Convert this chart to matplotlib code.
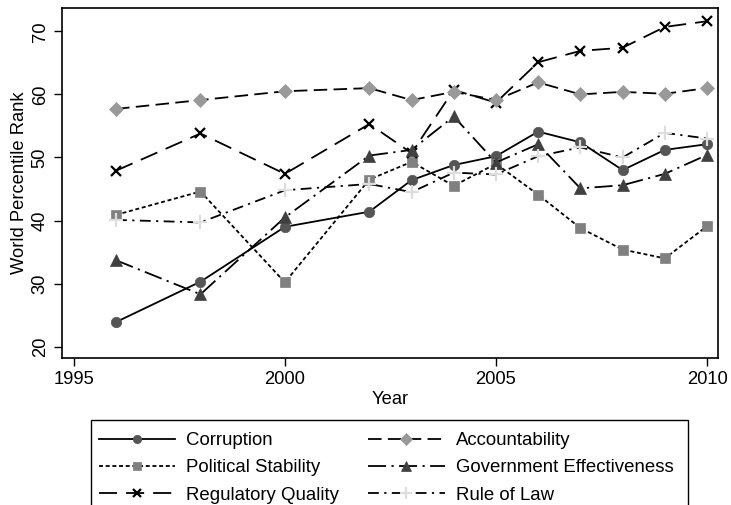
import matplotlib
matplotlib.use("Agg")
import matplotlib.pyplot as plt
from matplotlib.patches import Rectangle

plt.rcParams['font.family'] = ['Liberation Sans', 'DejaVu Sans']

years = [1996, 1998, 2000, 2002, 2003, 2004, 2005, 2006, 2007, 2008, 2009, 2010]

corruption = [23.9, 30.3, 39.0, 41.4, 46.4, 48.8, 50.2, 54.1, 52.4, 48.0, 51.2, 52.1]
accountability = [57.7, 59.1, 60.5, 61.0, 59.1, 60.4, 59.1, 61.9, 60.0, 60.4, 60.1, 61.0]
political_stability = [40.9, 44.6, 30.2, 46.5, 49.3, 45.5, 49.0, 44.1, 38.8, 35.4, 34.0, 39.1]
gov_effectiveness = [33.7, 28.3, 40.5, 50.3, 51.2, 56.5, 49.2, 52.1, 45.1, 45.6, 47.4, 50.4]
regulatory_quality = [47.9, 53.8, 47.4, 55.3, 50.7, 60.7, 58.7, 65.1, 66.9, 67.4, 70.7, 71.6]
rule_of_law = [40.1, 39.7, 44.8, 45.8, 44.5, 47.6, 47.3, 50.2, 51.6, 50.0, 53.9, 53.0]

W, H = 731, 505
fig = plt.figure(figsize=(W / 100, H / 100), dpi=100)
ax = fig.add_axes([62 / W, 1 - 358 / H, 656 / W, 350 / H])

# name, values, dash pattern, marker, marker colour, marker size
series = [
    ("Corruption", corruption, "-", "o", "#555555", 7.5),
    ("Political Stability", political_stability, (0, (2.2, 1.5)), "s", "#808080", 7),
    ("Regulatory Quality", regulatory_quality, (0, (10, 5)), "x", "black", 7),
    ("Accountability", accountability, (0, (7.5, 3.5)), "D", "#999999", 7.5),
    ("Government Effectiveness", gov_effectiveness, (0, (10, 3, 1.2, 3)), "^", "#404040", 8.5),
    ("Rule of Law", rule_of_law, (0, (6, 3, 1.2, 3)), "+", "#dddddd", 10),
]

handles = []
for name, vals, ls, mk, col, ms in series:
    h, = ax.plot(years, vals, color="black", linestyle=ls, linewidth=1.3,
                 marker=mk, markersize=ms, markerfacecolor=col,
                 markeredgecolor=col, markeredgewidth=1.6 if mk in "x+" else 0.5,
                 label=name)
    handles.append(h)

ax.set_xlim(1994.72, 2010.26)
ax.set_ylim(18.2, 73.7)
ax.set_xticks([1995, 2000, 2005, 2010])
ax.set_yticks([20, 30, 40, 50, 60, 70])
ax.tick_params(axis="both", direction="out", length=6, width=1, labelsize=13.2)
for lbl in ax.get_yticklabels():
    lbl.set_rotation(90)
    lbl.set_va("center")
ax.set_xlabel("Year", fontsize=13.2, labelpad=2)
ax.set_ylabel("World Percentile Rank", fontsize=13.2, labelpad=3)
for sp in ax.spines.values():
    sp.set_linewidth(1.2)

# legend box runs off the bottom of the figure
fig.add_artist(Rectangle((91 / W, -0.02), 597 / W, 0.02 + 85 / H,
                         transform=fig.transFigure, fill=False,
                         edgecolor="black", linewidth=1.0))
leg = fig.legend(handles=handles, ncol=2, loc="upper left",
                 bbox_to_anchor=(99 / W, 1 - 432 / H),
                 fontsize=13.4, frameon=False, handlelength=4.1,
                 handletextpad=0.6, columnspacing=1.55, labelspacing=0.56,
                 markerscale=0.8, borderaxespad=0, borderpad=0)

fig.savefig("out.png", dpi=100)
